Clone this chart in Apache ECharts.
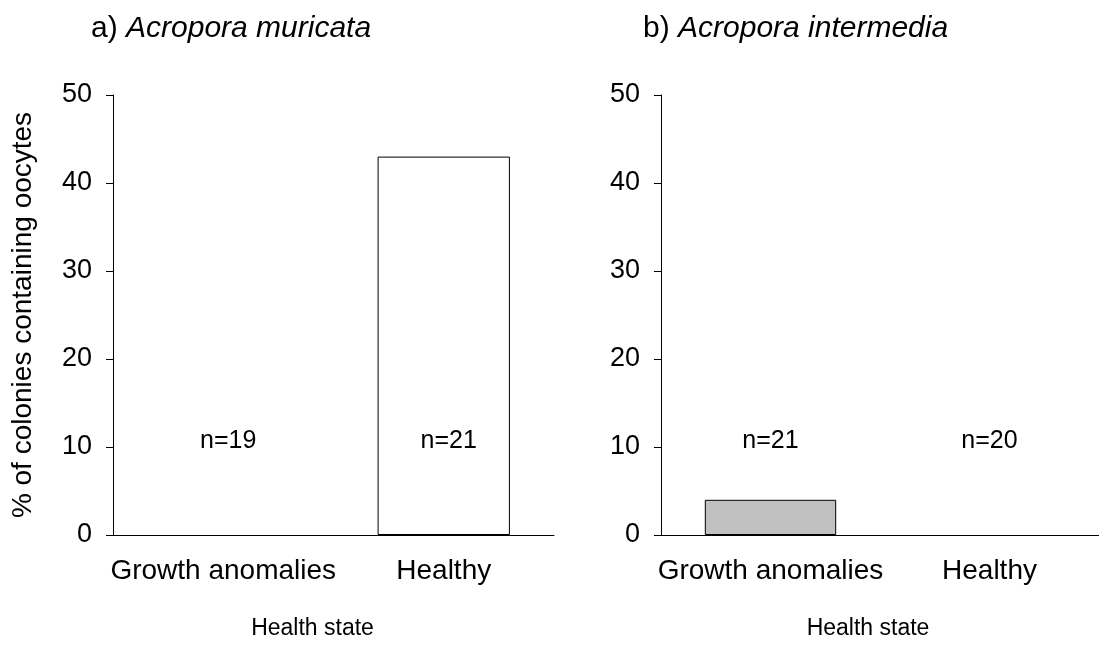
<!DOCTYPE html>
<html>
<head>
<meta charset="utf-8">
<script src="https://cdn.jsdelivr.net/npm/echarts@6/dist/echarts.min.js"></script>
<style>
  html, body { margin: 0; padding: 0; background: #fff; }
  #chart { width: 1099px; height: 656px; }
</style>
</head>
<body>
<div id="chart"></div>
<script>
// Health states on the x axis
const categories = ['Growth anomalies', 'Healthy'];
// % of colonies containing oocytes
const muricataPct = [0, 43];
const intermediaPct = [4, 0];
// sample sizes per health state
const muricataN = [19, 21];
const intermediaN = [21, 20];
// y axis range
const yMin = 0;
const yMax = 50;
const yStep = 10;

const FONT = '"Liberation Sans", Arial, Helvetica, sans-serif';
const BAR_FILL = ['#c0c0c0', '#ffffff'];
const N_LABEL_Y = 10.7;

const chart = echarts.init(document.getElementById('chart'), null, { renderer: 'canvas' });

function xAxisFor(idx, shift) {
  return {
    type: 'category',
    gridIndex: idx,
    data: categories,
    boundaryGap: true,
    axisLine: { lineStyle: { color: '#000', width: 1 } },
    axisTick: { alignWithLabel: true, length: 7, lineStyle: { color: '#000' } },
    axisLabel: { interval: 0, color: '#000', fontFamily: FONT, fontSize: 28, margin: 22 },
    name: 'Health state',
    nameLocation: 'middle',
    nameGap: 82,
    nameTextStyle: {
      color: '#000', fontFamily: FONT, fontSize: 23,
      padding: [0, shift * 2, 0, 0]
    },
    splitLine: { show: false }
  };
}

function yAxisFor(idx, withName) {
  return {
    type: 'value',
    gridIndex: idx,
    min: yMin,
    max: yMax,
    interval: yStep,
    axisLine: { show: true, lineStyle: { color: '#000', width: 1 } },
    axisTick: { show: true, length: 7, lineStyle: { color: '#000' } },
    axisLabel: { color: '#000', fontFamily: FONT, fontSize: 27, margin: 21 },
    splitLine: { show: false },
    name: withName ? '% of colonies containing oocytes' : '',
    nameLocation: 'middle',
    nameGap: 76,
    nameTextStyle: { color: '#000', fontFamily: FONT, fontSize: 28 }
  };
}

function barSeries(idx, values) {
  return {
    type: 'bar',
    xAxisIndex: idx,
    yAxisIndex: idx,
    barWidth: '60%',
    data: values.map((v, i) => ({
      value: v,
      itemStyle: { color: BAR_FILL[i], borderColor: '#000', borderWidth: v === 0 ? 0 : 1 }
    })),
    silent: true
  };
}

function nSeries(idx, counts, dx) {
  return {
    type: 'scatter',
    xAxisIndex: idx,
    yAxisIndex: idx,
    symbolSize: 0,
    silent: true,
    itemStyle: { opacity: 1 },
    data: counts.map((n, i) => ({ value: [i, N_LABEL_Y], n: n })),
    label: {
      show: true,
      position: 'inside',
      offset: [dx, 0],
      color: '#000',
      fontFamily: FONT,
      fontSize: 25,
      formatter: p => 'n=' + p.data.n
    }
  };
}

function panelTitle(letter, species, left) {
  return {
    text: '{u|' + letter + ') }{i|' + species + '}',
    left: left,
    top: 14,
    padding: 0,
    textStyle: {
      fontWeight: 'normal',
      rich: {
        u: { fontFamily: FONT, fontSize: 30, fontWeight: 'normal', color: '#000' },
        i: { fontFamily: FONT, fontSize: 30, fontWeight: 'normal', fontStyle: 'italic', color: '#000' }
      }
    }
  };
}

chart.setOption({
  animation: false,
  backgroundColor: '#fff',
  title: [
    panelTitle('a', 'Acropora muricata', 91),
    panelTitle('b', 'Acropora intermedia', 643)
  ],
  grid: [
    { left: 113, top: 95, width: 441, height: 440 },
    { left: 661, top: 95, width: 440, height: 440 }
  ],
  xAxis: [xAxisFor(0, 21), xAxisFor(1, 12)],
  yAxis: [yAxisFor(0, true), yAxisFor(1, false)],
  series: [
    barSeries(0, muricataPct),
    barSeries(1, intermediaPct),
    nSeries(0, muricataN, 5),
    nSeries(1, intermediaN, 0)
  ]
});
</script>
</body>
</html>
